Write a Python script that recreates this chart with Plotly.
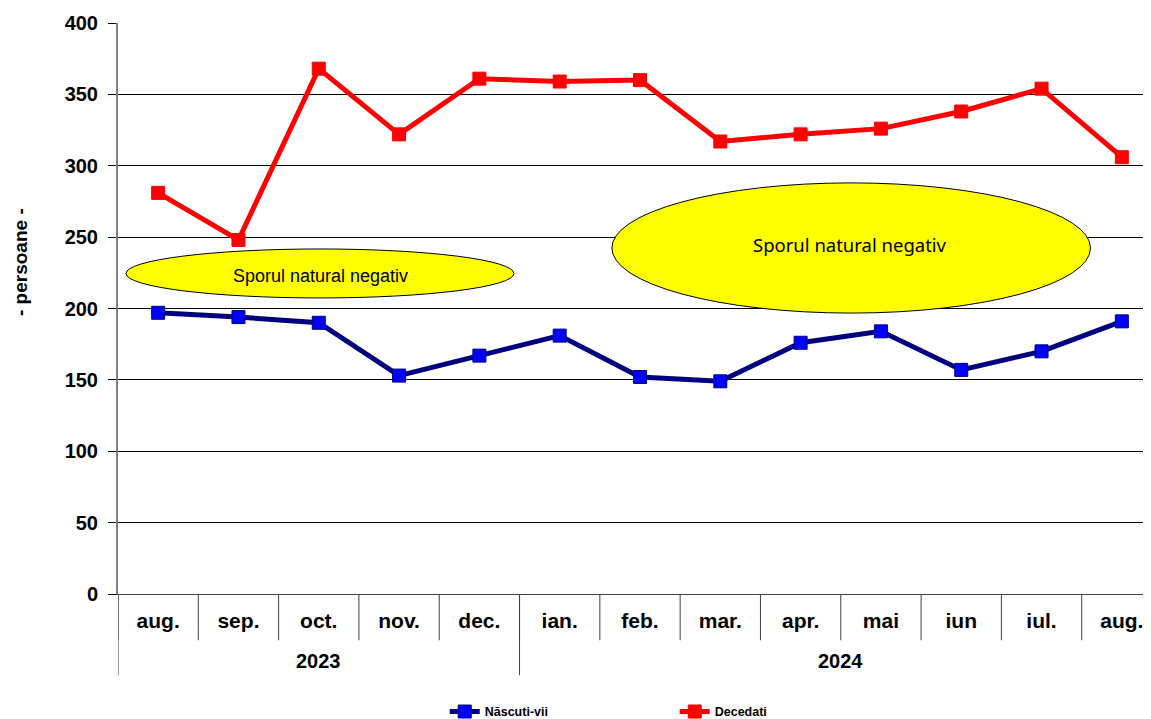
import plotly.graph_objects as go

months = ["aug.", "sep.", "oct.", "nov.", "dec.", "ian.", "feb.", "mar.", "apr.", "mai", "iun", "iul.", "aug."]
years = ["2023", "2024"]
year_counts = [5, 8]
nascuti = [197, 194, 190, 153, 167, 181, 152, 149, 176, 184, 157, 170, 191]
decedati = [281, 248, 368, 322, 361, 359, 360, 317, 322, 326, 338, 354, 306]
y_ticks = [0, 50, 100, 150, 200, 250, 300, 350, 400]

x = list(range(len(months)))
FONT = "Liberation Sans, Arial, sans-serif"

fig = go.Figure()
fig.add_trace(go.Scatter(
    x=x, y=nascuti, name="Născuti-vii", mode="lines+markers",
    line=dict(color="#000080", width=5),
    marker=dict(symbol="square", size=13, color="#0000FF", line=dict(color="#000080", width=1)),
))
fig.add_trace(go.Scatter(
    x=x, y=decedati, name="Decedati", mode="lines+markers",
    line=dict(color="#FF0000", width=5),
    marker=dict(symbol="square", size=13, color="#FF0000", line=dict(color="#FF0000", width=1)),
))

shapes = []
# month separators
for i in range(len(months) + 1):
    shapes.append(dict(type="line", xref="x", yref="paper", x0=i - 0.5, x1=i - 0.5,
                       y0=0, y1=-0.081, line=dict(color="#404040", width=1), layer="below"))
# year separators
b = -0.5
for c in [0] + year_counts:
    b += c
    shapes.append(dict(type="line", xref="x", yref="paper", x0=b, x1=b,
                       y0=0, y1=-0.142, line=dict(color="#404040", width=1), layer="below"))

# ellipses
shapes.append(dict(type="circle", xref="x", yref="y", x0=-0.40, x1=4.43, y0=207.4, y1=241.7,
                   fillcolor="#FFFF00", line=dict(color="black", width=1), layer="above"))
shapes.append(dict(type="circle", xref="x", yref="y", x0=5.65, x1=11.61, y0=196.8, y1=288,
                   fillcolor="#FFFF00", line=dict(color="black", width=1), layer="above"))

annotations = []
annotations.append(dict(x=2.02, y=222.8, xref="x", yref="y", text="Sporul natural negativ",
                        showarrow=False, font=dict(family=FONT, size=18, color="black")))
annotations.append(dict(x=8.62, y=244.5, xref="x", yref="y", text="Sporul natural negativ",
                        showarrow=False, font=dict(family="Noto Sans, DejaVu Sans, sans-serif", size=18.5, color="black")))

b = -0.5
for yr, c in zip(years, year_counts):
    annotations.append(dict(x=b + c / 2, y=-0.1173, xref="x", yref="paper", text="<b>%s</b>" % yr,
                            showarrow=False, yanchor="middle",
                            font=dict(family=FONT, size=20, color="black")))
    b += c

# y-axis title
annotations.append(dict(x=-0.0939, y=0.5814, xref="paper", yref="paper", text="<b>- persoane -</b>",
                        textangle=-90, showarrow=False, xanchor="center", yanchor="middle",
                        font=dict(family=FONT, size=19, color="black")))

fig.update_layout(
    width=1160, height=719,
    margin=dict(l=110, r=6, t=15, b=133, autoexpand=False),
    paper_bgcolor="white", plot_bgcolor="white",
    showlegend=True,
    legend=dict(orientation="h", xref="container", yref="container", x=0.3765, xanchor="left",
                y=0.021, yanchor="middle",
                font=dict(family=FONT, size=12.5, color="black", weight="bold"),
                entrywidth=185, entrywidthmode="pixels"),
    shapes=shapes, annotations=annotations,
    font=dict(family=FONT, color="black"),
)
fig.update_xaxes(range=[-0.5, 12.5], tickvals=x, ticktext=["<b>%s</b>" % m for m in months],
                 tickfont=dict(family=FONT, size=21, color="black"), ticks="", showgrid=False,
                 showline=True, linecolor="#404040", linewidth=1, zeroline=False, ticklabelstandoff=8,
                 automargin=False)
fig.update_yaxes(range=[0, 400], tickvals=y_ticks, ticktext=["<b>%d</b>" % v for v in y_ticks],
                 tickfont=dict(family=FONT, size=20, color="black"), ticks="outside", ticklen=8,
                 tickcolor="black", showgrid=True, gridcolor="black", gridwidth=1,
                 showline=True, linecolor="#808080", linewidth=2, zeroline=False,
                 ticklabelstandoff=6, automargin=False)

fig.write_html("out.html")
